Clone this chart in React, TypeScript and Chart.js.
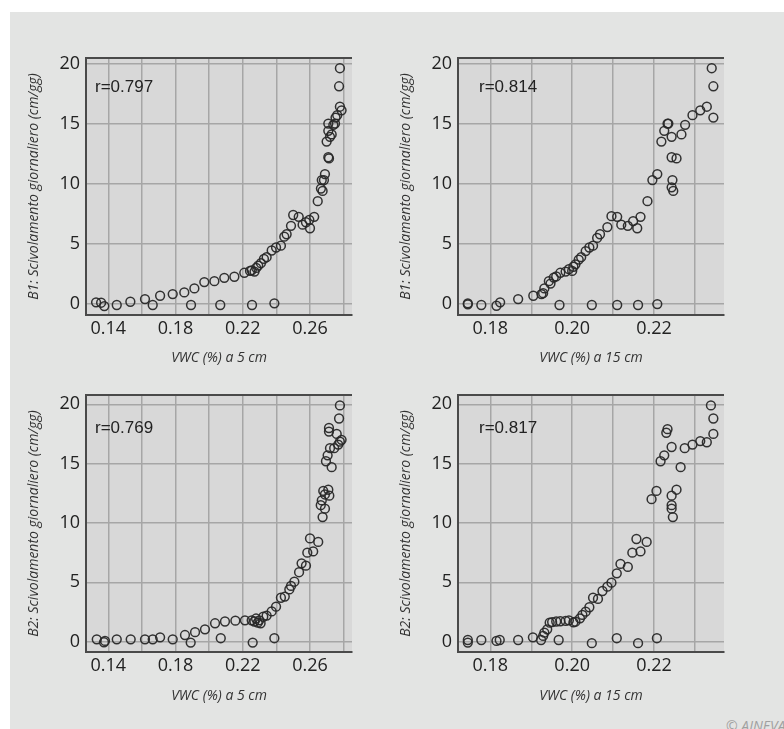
import React, { useEffect, useRef } from "react";
import { Chart, registerables } from "chart.js";

Chart.register(...registerables);

// ---------- tick values ----------
const X_GRID_5CM = [0.14, 0.16, 0.18, 0.2, 0.22, 0.24, 0.26, 0.28];
const X_LABELS_5CM = [0.14, 0.18, 0.22, 0.26];
const X_GRID_15CM = [0.18, 0.19, 0.2, 0.21, 0.22, 0.23];
const X_LABELS_15CM = [0.18, 0.2, 0.22];
const Y_TICKS = [0, 5, 10, 15, 20];

// ---------- titles / labels ----------
const X_TITLE_5CM = "VWC (%) a 5 cm";
const X_TITLE_15CM = "VWC (%) a 15 cm";
const Y_TITLE_B1 = "B1: Scivolamento giornaliero (cm/gg)";
const Y_TITLE_B2 = "B2: Scivolamento giornaliero (cm/gg)";
const R_LABELS = ["r=0.797", "r=0.814", "r=0.769", "r=0.817"];

// ---------- B1 vs VWC 5 cm ----------
const B1_5CM_X = [
  0.1327, 0.1357, 0.1376, 0.145, 0.1531, 0.1618, 0.1664, 0.1708, 0.1783, 0.1852,
  0.1892, 0.1912, 0.1971, 0.2031, 0.2066, 0.209, 0.215, 0.2209, 0.2255, 0.2388,
  0.2243, 0.2253, 0.227, 0.228, 0.2292, 0.2308, 0.2326, 0.2342,
  0.2372, 0.2398, 0.2427, 0.2447, 0.2461, 0.2487, 0.25, 0.2533, 0.2556, 0.2576,
  0.26, 0.2596, 0.2625, 0.2646,
  0.2665, 0.2675, 0.267, 0.2683, 0.2689, 0.2709, 0.2713, 0.2699, 0.2719, 0.2709,
  0.2729, 0.2739, 0.2709, 0.2749, 0.2752, 0.2762, 0.2788, 0.2778, 0.2773, 0.2778,
];
const B1_5CM_Y = [
  0.14, 0.11, -0.17, -0.08, 0.19, 0.41, -0.08, 0.69, 0.83, 0.97,
  -0.08, 1.3, 1.83, 1.9, -0.08, 2.18, 2.27, 2.6, -0.08, 0.06,
  2.75, 2.8, 2.7, 3.0, 3.2, 3.4, 3.75, 3.9,
  4.45, 4.7, 4.85, 5.6, 5.8, 6.5, 7.4, 7.25, 6.6, 6.8,
  6.3, 7.0, 7.25, 8.55,
  9.6, 9.4, 10.3, 10.3, 10.8, 12.2, 12.1, 13.5, 13.9, 14.4,
  14.1, 14.9, 15.0, 15.0, 15.5, 15.7, 16.1, 16.4, 18.1, 19.6,
];

// ---------- B1 vs VWC 15 cm ----------
const B1_15CM_X = [
  0.1745, 0.1745, 0.1778, 0.1815, 0.1824, 0.1868, 0.1905, 0.1925, 0.1929, 0.1932,
  0.1943, 0.1947, 0.1955, 0.1961, 0.1971, 0.1984, 0.1992, 0.2, 0.2003, 0.2008,
  0.2016, 0.2022, 0.2033, 0.2042, 0.2051, 0.2061, 0.2068, 0.2086, 0.2096, 0.211,
  0.212, 0.2136, 0.2149, 0.2159, 0.2167, 0.2184, 0.2196, 0.2208, 0.2218, 0.2225,
  0.2233, 0.2235, 0.2243, 0.2243, 0.2255, 0.2245, 0.2243, 0.2247, 0.2267, 0.2276,
  0.2294, 0.2313, 0.2329, 0.2345, 0.2345, 0.2341,
  0.1969, 0.2048, 0.211, 0.2161, 0.2208,
];
const B1_15CM_Y = [
  0.06, -0.02, -0.08, -0.14, 0.14, 0.41, 0.69, 0.83, 0.9, 1.3,
  1.9, 1.7, 2.2, 2.3, 2.6, 2.7, 2.9, 2.75, 3.1, 3.3,
  3.7, 3.9, 4.4, 4.7, 4.85, 5.5, 5.8, 6.4, 7.3, 7.25,
  6.6, 6.5, 6.9, 6.3, 7.25, 8.55, 10.3, 10.8, 13.5, 14.4,
  15.0, 15.0, 13.9, 12.2, 12.1, 10.3, 9.7, 9.4, 14.1, 14.9,
  15.7, 16.1, 16.4, 15.5, 18.1, 19.6,
  -0.08, -0.08, -0.08, -0.08, 0.0,
];

// ---------- B2 vs VWC 5 cm ----------
const B2_5CM_X = [
  0.1331, 0.1374, 0.138, 0.145, 0.1533, 0.1618, 0.1664, 0.1708, 0.1783, 0.1856,
  0.189, 0.1916, 0.1975, 0.2035, 0.2069, 0.2094, 0.2156, 0.2213, 0.2259, 0.2388,
  0.2253, 0.2269, 0.2279, 0.2289, 0.2298, 0.2306,
  0.2322, 0.2342, 0.2372, 0.2398, 0.2427, 0.245, 0.2477, 0.2487, 0.2507, 0.2535,
  0.255, 0.2576, 0.2584, 0.2619, 0.26, 0.2649,
  0.2675, 0.2664, 0.2689, 0.267, 0.2689, 0.2679, 0.2709, 0.2715, 0.2729, 0.2695,
  0.2705, 0.2719, 0.2744, 0.2768, 0.2778, 0.2788, 0.2759, 0.2713, 0.2713, 0.2773,
  0.2778,
];
const B2_5CM_Y = [
  0.2, -0.05, 0.06, 0.2, 0.2, 0.2, 0.2, 0.37, 0.2, 0.56,
  -0.08, 0.8, 1.04, 1.55, 0.29, 1.7, 1.77, 1.8, -0.08, 0.29,
  1.8, 1.7, 1.95, 1.6, 1.8, 1.55,
  2.1, 2.2, 2.55, 2.95, 3.7, 3.8, 4.4, 4.7, 5.05, 5.85,
  6.6, 6.4, 7.5, 7.6, 8.7, 8.4,
  10.5, 11.5, 11.2, 11.9, 12.4, 12.7, 12.8, 12.3, 14.7, 15.2,
  15.7, 16.3, 16.3, 16.6, 16.85, 17.0, 17.5, 17.7, 18.0, 18.8,
  19.9,
];

// ---------- B2 vs VWC 15 cm ----------
const B2_15CM_X = [
  0.1745, 0.1745, 0.1778, 0.1815, 0.1823, 0.1868, 0.1904, 0.1924, 0.1929, 0.1932,
  0.1939, 0.1945, 0.1951, 0.1961, 0.1971, 0.1984, 0.1992, 0.2003, 0.2008, 0.2019,
  0.2025, 0.2033, 0.2042, 0.2051, 0.2063, 0.2074, 0.2086, 0.2096, 0.2109, 0.2118,
  0.2136, 0.2147, 0.2157, 0.2167, 0.2182, 0.2194, 0.2206, 0.2216, 0.2225, 0.223,
  0.2233, 0.2243, 0.2243, 0.2243, 0.2243, 0.2246, 0.2255, 0.2265, 0.2275, 0.2294,
  0.2313, 0.2329, 0.2345, 0.2345, 0.2339,
  0.1967, 0.2048, 0.2109, 0.2161, 0.2207,
];
const B2_15CM_Y = [
  0.14, -0.08, 0.14, 0.06, 0.14, 0.14, 0.37, 0.14, 0.48, 0.76,
  1.04, 1.6, 1.65, 1.7, 1.72, 1.75, 1.8, 1.63, 1.68, 1.97,
  2.25, 2.53, 2.9, 3.7, 3.6, 4.27, 4.63, 4.97, 5.76, 6.55,
  6.3, 7.5, 8.65, 7.6, 8.4, 12.0, 12.7, 15.2, 15.7, 17.6,
  17.9, 16.4, 12.3, 11.5, 11.2, 10.5, 12.8, 14.7, 16.3, 16.6,
  16.9, 16.8, 17.5, 18.8, 19.9,
  0.14, -0.13, 0.29, -0.13, 0.29,
];

// ---------- layout (positions / styles) ----------
const CANVAS_W = 352;
const CANVAS_H = 335;

type PanelCfg = {
  left: number;
  top: number;
  xs: number[];
  ys: number[];
  xMin: number;
  xMax: number;
  yMin: number;
  yMax: number;
  xGrid: number[];
  xLabels: number[];
  xTitle: string;
  yTitle: string;
  rLabel: string;
  rDx: number;
  rDy: number;
  xTitlePad: number;
};

const PANELS: PanelCfg[] = [
  {
    left: 10, top: 40, xs: B1_5CM_X, ys: B1_5CM_Y,
    xMin: 0.1267, xMax: 0.285, yMin: -0.91, yMax: 20.45,
    xGrid: X_GRID_5CM, xLabels: X_LABELS_5CM, xTitle: X_TITLE_5CM, yTitle: Y_TITLE_B1,
    rLabel: R_LABELS[0], rDx: 9, rDy: 29, xTitlePad: 9,
  },
  {
    left: 382, top: 40, xs: B1_15CM_X, ys: B1_15CM_Y,
    xMin: 0.1721, xMax: 0.2371, yMin: -0.91, yMax: 20.45,
    xGrid: X_GRID_15CM, xLabels: X_LABELS_15CM, xTitle: X_TITLE_15CM, yTitle: Y_TITLE_B1,
    rLabel: R_LABELS[1], rDx: 21, rDy: 29, xTitlePad: 9,
  },
  {
    left: 10, top: 377, xs: B2_5CM_X, ys: B2_5CM_Y,
    xMin: 0.1267, xMax: 0.285, yMin: -0.87, yMax: 20.78,
    xGrid: X_GRID_5CM, xLabels: X_LABELS_5CM, xTitle: X_TITLE_5CM, yTitle: Y_TITLE_B2,
    rLabel: R_LABELS[2], rDx: 9, rDy: 33, xTitlePad: 8,
  },
  {
    left: 382, top: 377, xs: B2_15CM_X, ys: B2_15CM_Y,
    xMin: 0.1721, xMax: 0.2371, yMin: -0.87, yMax: 20.78,
    xGrid: X_GRID_15CM, xLabels: X_LABELS_15CM, xTitle: X_TITLE_15CM, yTitle: Y_TITLE_B2,
    rLabel: R_LABELS[3], rDx: 21, rDy: 33, xTitlePad: 8,
  },
];

const TICK_FONT = { family: '"Open Sans", sans-serif', size: 18 };
const TITLE_FONT = { family: '"Open Sans", sans-serif', size: 14, style: "italic" as const };

const decorPlugin = {
  id: "panelDecor",
  beforeDraw(chart: any) {
    const { ctx, chartArea } = chart;
    ctx.save();
    ctx.fillStyle = "#d8d8d8";
    ctx.fillRect(chartArea.left, chartArea.top, chartArea.right - chartArea.left, chartArea.bottom - chartArea.top);
    ctx.restore();
  },
  afterDraw(chart: any, _args: any, opts: any) {
    const { ctx, chartArea } = chart;
    ctx.save();
    ctx.strokeStyle = "#4a4a4a";
    ctx.lineWidth = 2;
    ctx.beginPath();
    ctx.moveTo(chartArea.left - 1, chartArea.top);
    ctx.lineTo(chartArea.right, chartArea.top);
    ctx.stroke();
    ctx.fillStyle = "#222";
    ctx.font = '17px "Liberation Sans", Arial, sans-serif';
    ctx.textBaseline = "middle";
    ctx.textAlign = "left";
    ctx.fillText(opts.label, chartArea.left + opts.dx, chartArea.top + opts.dy);
    ctx.restore();
  },
};

const near = (arr: number[], v: number) => arr.some((a) => Math.abs(a - v) < 1e-6);

function Panel({ cfg }: { cfg: PanelCfg }) {
  const ref = useRef<HTMLCanvasElement | null>(null);
  useEffect(() => {
    if (!ref.current) return;
    const chart = new Chart(ref.current, {
      type: "scatter",
      data: {
        datasets: [
          {
            data: cfg.xs.map((x, i) => ({ x, y: cfg.ys[i] })),
            pointRadius: 4.4,
            pointHoverRadius: 4.4,
            pointBorderWidth: 1.5,
            borderColor: "rgba(40,40,40,0.95)",
            backgroundColor: "rgba(0,0,0,0)",
          },
        ],
      },
      options: {
        animation: false,
        responsive: false,
        devicePixelRatio: 1,
        events: [],
        layout: { padding: { top: 18, right: 10, left: 0, bottom: 0 } },
        plugins: {
          legend: { display: false },
          tooltip: { enabled: false },
          panelDecor: { label: cfg.rLabel, dx: cfg.rDx, dy: cfg.rDy },
        } as any,
        scales: {
          x: {
            type: "linear",
            min: cfg.xMin,
            max: cfg.xMax,
            afterBuildTicks: (s: any) => {
              s.ticks = cfg.xGrid.map((v) => ({ value: v }));
            },
            afterFit: (s: any) => {
              s.height = 60;
            },
            ticks: {
              autoSkip: false,
              maxRotation: 0,
              padding: 3,
              color: "#222",
              font: TICK_FONT,
              callback: (v: any) => (near(cfg.xLabels, Number(v)) ? Number(v).toFixed(2) : ""),
            },
            grid: { color: "#a6a6a6", lineWidth: 1.5, drawTicks: false },
            border: { display: true, color: "#4a4a4a", width: 2 },
            title: {
              display: true,
              text: cfg.xTitle,
              color: "#333",
              font: TITLE_FONT,
              padding: { top: 0, bottom: cfg.xTitlePad },
            },
          },
          y: {
            type: "linear",
            min: cfg.yMin,
            max: cfg.yMax,
            afterBuildTicks: (s: any) => {
              s.ticks = Y_TICKS.map((v) => ({ value: v }));
            },
            afterFit: (s: any) => {
              s.width = 76;
            },
            ticks: {
              padding: 6,
              color: "#222",
              font: TICK_FONT,
              callback: (v: any) => String(v),
            },
            grid: { color: "#a6a6a6", lineWidth: 1.5, drawTicks: false },
            border: { display: true, color: "#4a4a4a", width: 2 },
            title: {
              display: true,
              text: cfg.yTitle,
              color: "#333",
              font: TITLE_FONT,
              padding: { top: 16, bottom: 0 },
            },
          },
        },
      } as any,
      plugins: [decorPlugin],
    });
    return () => chart.destroy();
  }, [cfg]);
  return (
    <canvas
      ref={ref}
      width={CANVAS_W}
      height={CANVAS_H}
      style={{ position: "absolute", left: cfg.left, top: cfg.top, width: CANVAS_W, height: CANVAS_H }}
    />
  );
}

export default function App() {
  return (
    <div style={{ position: "absolute", left: 0, top: 0, width: 784, height: 729, overflow: "hidden", background: "#fff" }}>
      <div style={{ position: "absolute", left: 10, top: 12, width: 774, height: 717, background: "#e3e4e3" }} />
      {PANELS.map((p, i) => (
        <Panel key={i} cfg={p} />
      ))}
      <span
        style={{
          position: "absolute",
          left: 726,
          top: 716,
          fontFamily: '"Open Sans", sans-serif',
          fontStyle: "italic",
          fontSize: 14,
          color: "#a0a0a0",
          whiteSpace: "nowrap",
        }}
      >
        © AINEVA
      </span>
    </div>
  );
}
